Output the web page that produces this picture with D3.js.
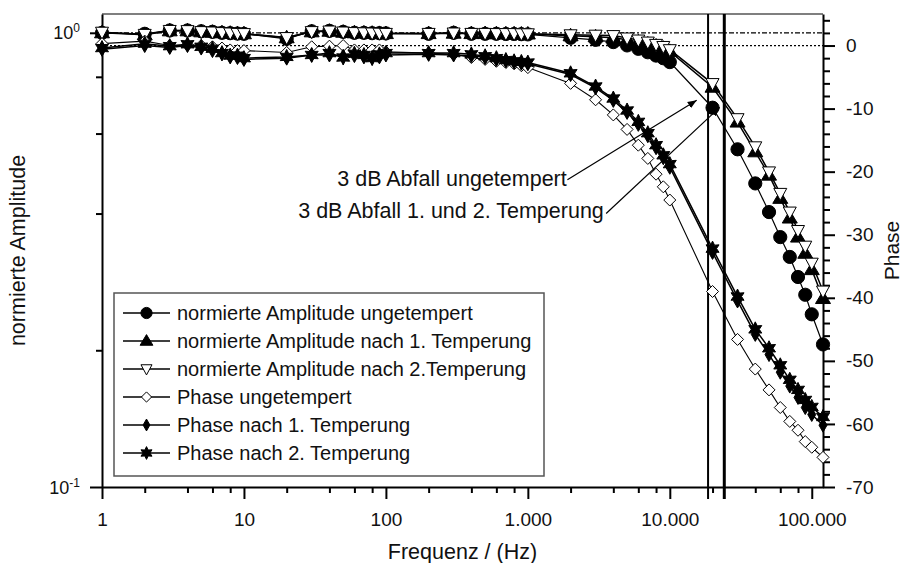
<!doctype html>
<html lang="de">
<head>
<meta charset="utf-8" />
<title>Frequenzgang Amplitude und Phase</title>
<script src="https://cdn.jsdelivr.net/npm/d3@7"></script>
<style>
  html, body { margin: 0; padding: 0; background: #fff; }
  svg { display: block; font-family: "Liberation Sans", Arial, Helvetica, sans-serif; }
</style>
</head>
<body>
<div id="graph"></div>
<script>
// Messfrequenzen in Hz
var frequenz = [1, 2, 3, 4, 5, 6, 7, 8, 9, 10,
  20, 30, 40, 50, 60, 70, 80, 90, 100,
  200, 300, 400, 500, 600, 700, 800, 900, 1000,
  2000, 3000, 4000, 5000, 6000, 7000, 8000, 9000, 10000,
  20000, 30000, 40000, 50000, 60000, 70000, 80000, 90000, 100000, 120000];

// normierte Amplituden (linke Achse, log)
var ampUngetempert = [1.000, 0.995, 1.012, 1.012, 1.008, 1.005, 1.000, 0.998, 0.996, 0.995,
  0.970, 1.008, 1.010, 1.005, 1.000, 1.000, 0.998, 0.998, 0.997,
  0.995, 1.000, 0.995, 0.995, 0.995, 0.994, 0.994, 0.993, 0.992,
  0.975, 0.965, 0.954, 0.938, 0.922, 0.906, 0.891, 0.879, 0.862,
  0.684, 0.554, 0.466, 0.403, 0.355, 0.321, 0.290, 0.265, 0.240, 0.206];
var ampTemp1 = [1.000, 0.990, 1.010, 1.010, 1.005, 1.003, 1.000, 0.998, 0.996, 0.995,
  0.975, 1.005, 1.008, 1.003, 1.000, 0.999, 0.998, 0.997, 0.996,
  0.996, 0.998, 0.996, 0.996, 0.995, 0.995, 0.995, 0.994, 0.994,
  0.985, 0.980, 0.975, 0.965, 0.955, 0.945, 0.935, 0.925, 0.910,
  0.759, 0.636, 0.547, 0.486, 0.432, 0.391, 0.355, 0.327, 0.301, 0.260];
var ampTemp2 = [1.003, 0.992, 1.012, 1.011, 1.006, 1.004, 1.001, 0.999, 0.997, 0.996,
  0.976, 1.006, 1.009, 1.004, 1.001, 1.000, 0.999, 0.998, 0.997,
  0.997, 0.999, 0.997, 0.997, 0.996, 0.996, 0.996, 0.995, 0.995,
  0.990, 0.988, 0.986, 0.974, 0.964, 0.954, 0.943, 0.933, 0.918,
  0.773, 0.647, 0.561, 0.494, 0.443, 0.403, 0.367, 0.339, 0.311, 0.270];

// Phase in Grad (rechte Achse)
var phaseUngetempert = [0.3, 0.7, 0.0, 0.1, 0.0, -0.2, -0.4, -0.7, -0.8, -0.8,
  -1.1, -0.2, -0.1, 0.0, -0.7, -0.7, -0.7, -0.7, -1.0,
  -1.2, -1.4, -1.9, -2.2, -2.5, -2.7, -2.9, -3.2, -3.5,
  -6.0, -8.6, -11.0, -13.3, -15.8, -17.9, -20.4, -22.4, -24.5,
  -39.0, -46.6, -51.3, -54.6, -57.4, -59.6, -61.0, -62.8, -63.7, -65.3];
var phaseTemp1 = [-0.6, 0.0, -0.3, 0.0, -0.4, -0.8, -1.3, -1.8, -1.9, -2.2,
  -2.0, -1.5, -1.5, -1.7, -1.6, -1.8, -1.9, -1.8, -1.5,
  -1.4, -1.5, -1.6, -1.9, -2.2, -2.4, -2.6, -2.8, -2.9,
  -4.6, -6.7, -8.7, -10.6, -12.5, -14.3, -16.2, -17.8, -19.3,
  -32.8, -40.5, -45.8, -49.0, -51.8, -54.0, -55.8, -57.4, -58.5, -60.2];
var phaseTemp2 = [-0.4, 0.3, -0.1, 0.2, -0.2, -0.5, -1.2, -1.6, -1.6, -2.0,
  -1.8, -1.5, -1.2, -1.9, -1.3, -1.5, -2.0, -1.4, -1.2,
  -1.2, -1.2, -1.4, -1.7, -2.0, -2.3, -2.5, -2.6, -2.7,
  -4.4, -6.5, -8.4, -10.3, -12.1, -13.9, -15.8, -17.4, -18.8,
  -32.2, -39.8, -45.0, -48.0, -50.7, -53.0, -54.6, -56.2, -57.3, -58.9];

// 3 dB Grenzfrequenzen (senkrechte Linien)
var grenzFrequenz = [18600, 24200];
var grenzBreite = [2, 3];

// Achsenbeschriftung
var xHaupt = [1, 10, 100, 1000, 10000, 100000];
var xNeben = [2, 4, 6, 8, 20, 40, 60, 80, 200, 400, 600, 800, 2000, 4000, 6000, 8000, 20000, 40000, 60000, 80000];
var ampHaupt = [0.1, 1];
var ampHauptText = [["10", "-1"], ["10", "0"]];
var ampNeben = [0.2, 0.4, 0.6, 0.8];
var phaseHaupt = [-70, -60, -50, -40, -30, -20, -10, 0];
var phaseNeben = d3.range(-68, 5, 2).filter(function(v){ return v % 10 !== 0; });

// Pfeile mit Text: Textende und Pfeilspitze in Datenkoordinaten
var pfeilText = ["3 dB Abfall ungetempert", "3 dB Abfall 1. und 2. Temperung"];
var pfeilTextF = [1880, 3430];
var pfeilTextA = [0.46, 0.391];
var pfeilStartF = [1900, 3560];
var pfeilStartA = [0.475, 0.40];
var pfeilSpitzeF = [15470, 22460];
var pfeilSpitzeA = [0.710, 0.685];

var breite = 904, hoehe = 563;
var links = 102, rechts = 823, oben = 14, unten = 487;

var svg = d3.select("#graph").append("svg").attr("width", breite).attr("height", hoehe);

var x = d3.scaleLog().domain([1, 120000]).range([links, rechts]);
var yAmp = d3.scaleLog().domain([0.1, 1.1]).range([unten, oben]);
var yPh = d3.scaleLinear().domain([-70, 5]).range([unten, oben]);

var de = d3.formatLocale({decimal: ",", thousands: ".", grouping: [3], currency: ["", " €"]});
var fmtX = de.format(",d");

// Symbole als Pfade
function poly(pts, s) {
  return "M" + pts.map(function(p){ return (p[0]*s).toFixed(2) + "," + (p[1]*s).toFixed(2); }).join("L") + "Z";
}
function stern(ra, ri, s) {
  var pts = [];
  for (var i = 0; i < 12; i++) {
    var w = Math.PI / 6 * i - Math.PI / 2;
    var r = (i % 2 === 0) ? ra : ri;
    pts.push([Math.cos(w) * r, Math.sin(w) * r]);
  }
  return poly(pts, s);
}
var symbole = {
  kreis: function(s){ var r = 6.6 * s; return "M" + (-r) + ",0A" + r + "," + r + " 0 1,0 " + r + ",0A" + r + "," + r + " 0 1,0 " + (-r) + ",0Z"; },
  dreieck: function(s){ return poly([[0, -7.5], [7.5, 5], [-7.5, 5]], s); },
  dreieckUnten: function(s){ return poly([[-6.5, -5], [6.5, -5], [0, 7]], s); },
  raute: function(s){ return poly([[0, -6], [6, 0], [0, 6], [-6, 0]], s); },
  rauteSchmal: function(s){ return poly([[0, -7], [4, 0], [0, 7], [-4, 0]], s); },
  stern: function(s){ return stern(7.5, 4, s); }
};

var reihen = [
  {name: "normierte Amplitude ungetempert", werte: ampUngetempert, y: yAmp, sym: "kreis", fuell: "#000", lw: 1.2},
  {name: "normierte Amplitude nach 1. Temperung", werte: ampTemp1, y: yAmp, sym: "dreieck", fuell: "#000", lw: 1.5},
  {name: "normierte Amplitude nach 2.Temperung", werte: ampTemp2, y: yAmp, sym: "dreieckUnten", fuell: "#fff", lw: 1.5},
  {name: "Phase ungetempert", werte: phaseUngetempert, y: yPh, sym: "raute", fuell: "#fff", lw: 1.1},
  {name: "Phase nach 1. Temperung", werte: phaseTemp1, y: yPh, sym: "rauteSchmal", fuell: "#000", lw: 1.5},
  {name: "Phase nach 2. Temperung", werte: phaseTemp2, y: yPh, sym: "stern", fuell: "#000", lw: 1.5}
];

// Rahmen oben
svg.append("line").attr("x1", links).attr("x2", rechts).attr("y1", oben).attr("y2", oben)
  .attr("stroke", "#555").attr("stroke-width", 1.5);

// Bezugslinien: Amplitude 1 und Phase 0
svg.append("line").attr("x1", links).attr("x2", rechts).attr("y1", yAmp(1)).attr("y2", yAmp(1))
  .attr("stroke", "#000").attr("stroke-width", 1.3).attr("stroke-dasharray", "5,2,2,2");
svg.append("line").attr("x1", links).attr("x2", rechts).attr("y1", yPh(0)).attr("y2", yPh(0))
  .attr("stroke", "#000").attr("stroke-width", 1.3).attr("stroke-dasharray", "2,2");

// Achsen
function stilAchse(g) {
  g.select(".domain").attr("stroke-width", 2);
  g.selectAll(".tick line").attr("stroke-width", 2);
  g.selectAll("text").attr("fill", "#111").style("font-size", "19px").style("font-family", "inherit");
}
svg.append("g").attr("transform", "translate(0," + unten + ")")
  .call(d3.axisBottom(x).tickValues(xHaupt).tickSize(12).tickSizeOuter(0).tickPadding(14).tickFormat(fmtX))
  .call(stilAchse);
svg.append("g").attr("transform", "translate(0," + unten + ")")
  .call(d3.axisBottom(x).tickValues(xNeben).tickSize(6).tickFormat(""))
  .call(function(g){ g.select(".domain").remove(); g.selectAll(".tick line").attr("stroke-width", 2); });

svg.append("g").attr("transform", "translate(" + links + ",0)")
  .call(d3.axisLeft(yAmp).tickValues(ampHaupt).tickSize(12).tickSizeOuter(0).tickFormat(""))
  .call(stilAchse);
svg.append("g").attr("transform", "translate(" + links + ",0)")
  .call(d3.axisLeft(yAmp).tickValues(ampNeben).tickSize(6).tickFormat(""))
  .call(function(g){ g.select(".domain").remove(); g.selectAll(".tick line").attr("stroke-width", 2); });
// Zehnerpotenzen mit Hochzahl
ampHaupt.forEach(function(v, i){
  var t = svg.append("text").attr("x", links - 22).attr("y", yAmp(v) + 6.5)
    .attr("text-anchor", "end").attr("fill", "#111").style("font-size", "18px");
  t.append("tspan").text(ampHauptText[i][0]);
  t.append("tspan").attr("dy", -7).style("font-size", "12px").text(ampHauptText[i][1]);
});

svg.append("g").attr("transform", "translate(" + rechts + ",0)")
  .call(d3.axisRight(yPh).tickValues(phaseHaupt).tickSize(12).tickSizeOuter(0).tickPadding(11).tickFormat(d3.format("d")))
  .call(stilAchse)
  .call(function(g){ g.selectAll("text").text(function(d){ return d < 0 ? "-" + (-d) : d; }); });
svg.append("g").attr("transform", "translate(" + rechts + ",0)")
  .call(d3.axisRight(yPh).tickValues(phaseNeben).tickSize(7).tickFormat(""))
  .call(function(g){ g.select(".domain").remove(); g.selectAll(".tick line").attr("stroke-width", 2); });

// Achsentitel
svg.append("text").attr("x", (links + rechts) / 2).attr("y", 559).attr("text-anchor", "middle")
  .attr("fill", "#111").style("font-size", "21.5px").text("Frequenz / (Hz)");
svg.append("text").attr("transform", "translate(25," + ((oben + unten) / 2) + ") rotate(-90)")
  .attr("text-anchor", "middle").attr("fill", "#111").style("font-size", "21.5px").text("normierte Amplitude");
svg.append("text").attr("transform", "translate(899," + ((oben + unten) / 2) + ") rotate(-90)")
  .attr("text-anchor", "middle").attr("fill", "#111").style("font-size", "21px").text("Phase");

// senkrechte Linien bei den Grenzfrequenzen
grenzFrequenz.forEach(function(f, i){
  svg.append("line").attr("x1", x(f)).attr("x2", x(f)).attr("y1", oben).attr("y2", unten + 12)
    .attr("stroke", "#000").attr("stroke-width", grenzBreite[i]);
});

// Messreihen
reihen.forEach(function(r){
  var pkt = frequenz.map(function(f, i){ return [x(f), r.y(r.werte[i])]; });
  svg.append("path").attr("d", d3.line()(pkt)).attr("fill", "none")
    .attr("stroke", "#000").attr("stroke-width", r.lw);
  svg.append("g").selectAll("path").data(pkt).enter().append("path")
    .attr("transform", function(p){ return "translate(" + p[0] + "," + p[1] + ")"; })
    .attr("d", symbole[r.sym](1))
    .attr("fill", r.fuell).attr("stroke", "#000").attr("stroke-width", 1);
});

// Pfeile und Beschriftung
var defs = svg.append("defs");
defs.append("marker").attr("id", "spitze").attr("viewBox", "0 -5 10 10").attr("refX", 10).attr("refY", 0)
  .attr("markerWidth", 9).attr("markerHeight", 9).attr("markerUnits", "userSpaceOnUse").attr("orient", "auto")
  .append("path").attr("d", "M0,-4L10,0L0,4Z").attr("fill", "#000");
pfeilText.forEach(function(t, i){
  svg.append("text").attr("x", x(pfeilTextF[i])).attr("y", yAmp(pfeilTextA[i]))
    .attr("text-anchor", "end").attr("fill", "#111").style("font-size", "21.5px").text(t);
  svg.append("line").attr("x1", x(pfeilStartF[i])).attr("y1", yAmp(pfeilStartA[i]))
    .attr("x2", x(pfeilSpitzeF[i])).attr("y2", yAmp(pfeilSpitzeA[i]))
    .attr("stroke", "#000").attr("stroke-width", 1.2).attr("marker-end", "url(#spitze)");
});

// Legende
var lg = svg.append("g");
lg.append("rect").attr("x", 114).attr("y", 293).attr("width", 430).attr("height", 183)
  .attr("fill", "#fff").attr("stroke", "#555").attr("stroke-width", 1.5);
reihen.forEach(function(r, i){
  var yy = 313 + i * 28;
  lg.append("line").attr("x1", 123).attr("x2", 170).attr("y1", yy).attr("y2", yy)
    .attr("stroke", "#000").attr("stroke-width", 1.5);
  lg.append("path").attr("transform", "translate(146.5," + yy + ")").attr("d", symbole[r.sym](0.85))
    .attr("fill", r.fuell).attr("stroke", "#000").attr("stroke-width", 1);
  lg.append("text").attr("x", 177).attr("y", yy + 7).attr("fill", "#111").style("font-size", "20px").text(r.name);
});
</script>
</body>
</html>
